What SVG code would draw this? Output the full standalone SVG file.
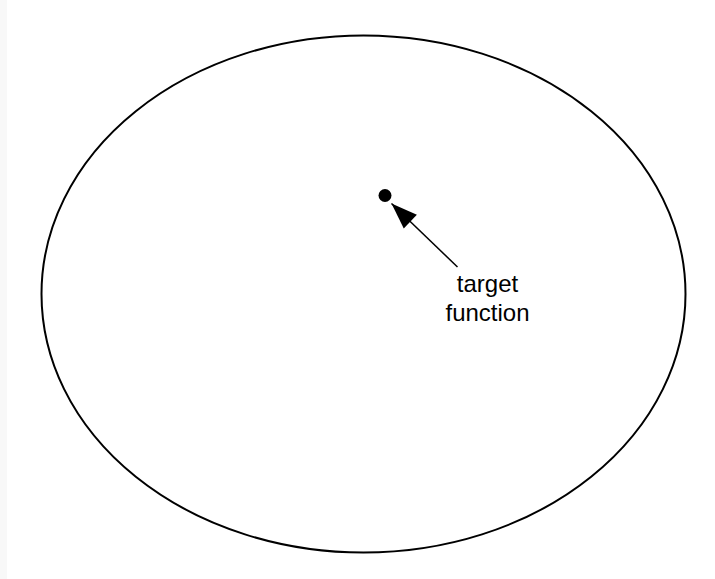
<svg xmlns="http://www.w3.org/2000/svg" width="715" height="579" viewBox="0 0 715 579">
  <style>
    .outline { fill: none; stroke: #000; stroke-width: 2; }
    .conn { fill: none; stroke: #000; stroke-width: 1.5; }
    .label { font-family: "Liberation Sans", Arial, sans-serif; font-size: 24px; fill: #000; text-anchor: middle; }
  </style>
  <defs>
    <marker id="arrow" markerUnits="userSpaceOnUse" markerWidth="30" markerHeight="30" viewBox="-25 -10 27 20" refX="0" refY="0" orient="auto">
      <path d="M0,0 L-23.5,-8.5 L-23.5,8.5 z" fill="#000"/>
    </marker>
  </defs>
  <rect width="715" height="579" fill="#fff"/>
  <rect x="0" y="0" width="7" height="579" fill="#f8f8f8"/>
  <g id="space">
    <ellipse class="outline" cx="363.5" cy="294" rx="322" ry="258.5"/>
  </g>
  <g id="target-point">
    <circle cx="385" cy="195.5" r="6.5" fill="#000"/>
  </g>
  <g id="connectors">
    <line class="conn" x1="457.5" y1="267" x2="391.5" y2="203.5" marker-end="url(#arrow)"/>
  </g>
  <g id="target-label">
    <text class="label" x="487.5" y="291.5">target</text>
    <text class="label" x="487.5" y="320.5">function</text>
  </g>
</svg>
